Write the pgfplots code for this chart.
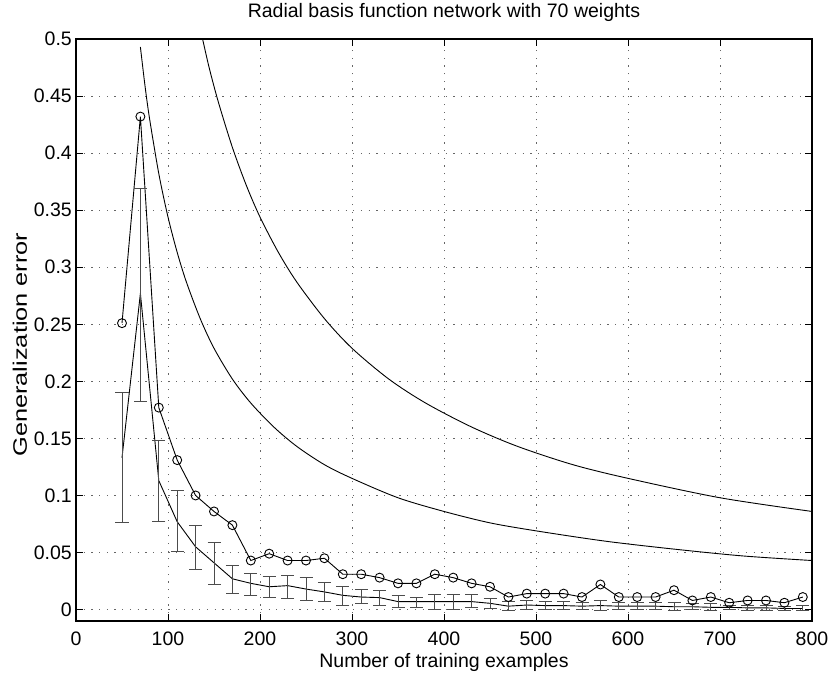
\documentclass[border=0pt]{standalone}
\usepackage{fontspec}
\setmainfont{Liberation Sans}
\usepackage{graphicx}
\usepackage{pgfplots}
\usepackage{pgfplotstable}
\pgfplotsset{compat=1.18}

\pgfplotstableread{
x y
50 0.251
70 0.432
90 0.177
110 0.131
130 0.100
150 0.086
170 0.074
190 0.043
210 0.049
230 0.043
250 0.043
270 0.045
290 0.031
310 0.031
330 0.028
350 0.023
370 0.023
390 0.031
410 0.028
430 0.023
450 0.020
470 0.011
490 0.014
510 0.014
530 0.014
550 0.011
570 0.022
590 0.011
610 0.011
630 0.011
650 0.017
670 0.008
690 0.011
710 0.006
730 0.008
750 0.008
770 0.006
790 0.011
}\circdata

\pgfplotstableread{
x y hi lo
50 0.133 0.190 0.076
70 0.277 0.369 0.182
90 0.113 0.148 0.077
110 0.077 0.104 0.051
130 0.055 0.074 0.035
150 0.041 0.059 0.022
170 0.027 0.039 0.014
190 0.023 0.032 0.012
210 0.020 0.029 0.011
230 0.021 0.030 0.010
250 0.018 0.028 0.008
270 0.0155 0.024 0.007
290 0.0125 0.020 0.004
310 0.011 0.018 0.005
330 0.0105 0.017 0.004
350 0.007 0.012 0.0015
370 0.007 0.011 0.002
390 0.007 0.013 0.000
410 0.007 0.013 0.000
430 0.007 0.013 0.002
450 0.0055 0.010 0.001
470 0.003 0.007 -0.0005
490 0.004 0.008 0.000
510 0.0035 0.007 0.000
530 0.0035 0.007 0.000
550 0.003 0.006 0.000
570 0.0035 0.008 -0.0005
590 0.003 0.006 0.000
610 0.003 0.006 0.000
630 0.003 0.006 0.000
650 0.0025 0.006 -0.0005
670 0.0025 0.005 0.000
690 0.002 0.005 -0.0005
710 0.002 0.004 0.000
730 0.0015 0.004 -0.001
750 0.0015 0.004 -0.001
770 0.001 0.003 -0.001
790 0.001 0.004 -0.001
}\errdata

\pgfplotstableread{
x y
70 0.493
75 0.459
80 0.430
90 0.382
100 0.344
110 0.313
120 0.287
135 0.255
150 0.229
170 0.202
190 0.181
215 0.160
240 0.143
270 0.127
300 0.115
350 0.098
400 0.086
450 0.076
500 0.069
575 0.060
650 0.053
725 0.047
800 0.043
}\boundA

\pgfplotstableread{
x y
137.6 0.500
145 0.474
155 0.444
170 0.405
185 0.372
200 0.344
220 0.313
240 0.287
270 0.255
300 0.229
340 0.202
380 0.181
430 0.160
480 0.143
540 0.127
600 0.115
700 0.098
800 0.086
}\boundB

\newcommand{\ff}{\fontsize{19.5}{23}\selectfont}

\begin{document}
\begin{tikzpicture}
\useasboundingbox (-76pt,-54pt) rectangle (756pt,621pt);
\begin{axis}[
  at={(0pt,0pt)}, anchor=south west,
  scale only axis, width=736pt, height=582pt,
  xmin=0, xmax=800, ymin=-0.01, ymax=0.5,
  xtick={0,100,200,300,400,500,600,700,800},
  xticklabels={0,100,200,300,400,500,600,700,800},
  ytick={0,0.05,0.1,0.15,0.2,0.25,0.3,0.35,0.4,0.45,0.5},
  yticklabels={0,0.05,0.1,0.15,0.2,0.25,0.3,0.35,0.4,0.45,0.5},
  scaled y ticks=false, scaled x ticks=false,
  tick align=inside, tick pos=both,
  major tick length=7pt,
  every tick/.style={black, line width=0.9pt},
  axis line style={black, line width=1.2pt},
  grid=major,
  major grid style={black!60, line width=0.8pt, dash pattern=on 1.2pt off 6.5pt},
  tick label style={font=\ff},
  xticklabel style={anchor=base, yshift=-24pt},
  yticklabel style={anchor=east, inner sep=0pt, xshift=-4pt},
  xlabel={Number of training examples},
  ylabel={\scalebox{1.3}[1]{Generalization error}},
  title={Radial basis function network with 70 weights},
  label style={font=\ff},
  title style={font=\ff, at={(axis description cs:0.5,1)}, anchor=base, yshift=15pt},
  xlabel style={at={(axis description cs:0.5,0)}, anchor=base, yshift=-46pt},
  ylabel style={at={(axis description cs:-0.0666,0.475)}, anchor=base},
]
\addplot[black, line width=0.9pt, smooth, mark=none] table[x=x,y=y] {\boundA};
\addplot[black, line width=0.9pt, smooth, mark=none] table[x=x,y=y] {\boundB};
\addplot[black, line width=0.9pt, mark=o, mark size=4.5pt, mark options={solid, fill=none}] table[x=x,y=y] {\circdata};
\addplot[black, line width=0.9pt, mark=none,
  error bars/.cd, y dir=both, y explicit,
  error bar style={black!70, line width=0.9pt},
  error mark=-,
  error mark options={rotate=90, black!70, mark size=6.5pt, line width=0.9pt}]
  table[x=x, y=y, y error plus expr=\thisrow{hi}-\thisrow{y}, y error minus expr=\thisrow{y}-\thisrow{lo}] {\errdata};
\end{axis}
\end{tikzpicture}
\end{document}
